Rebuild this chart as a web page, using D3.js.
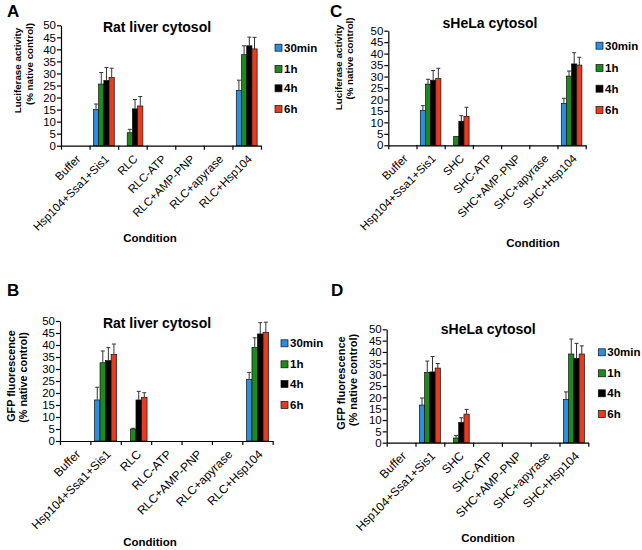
<!DOCTYPE html>
<html><head><meta charset="utf-8">
<script src="https://cdn.jsdelivr.net/npm/d3@7/dist/d3.min.js"></script>
<style>
body{margin:0;background:#fff;}
svg{font-family:"Liberation Sans",Arial,sans-serif;}
</style></head>
<body><svg id="c" width="642" height="550"></svg>
<script>
// ---- data ----
const categoriesRLC = ["Buffer","Hsp104+Ssa1+Sis1","RLC","RLC-ATP","RLC+AMP-PNP","RLC+apyrase","RLC+Hsp104"];
const categoriesSHC = ["Buffer","Hsp104+Ssa1+Sis1","SHC","SHC-ATP","SHC+AMP-PNP","SHC+apyrase","SHC+Hsp104"];
const seriesNames = ["30min","1h","4h","6h"];
const seriesColors = ["#2b8ee0","#1c8a1c","#000000","#e63b1e"];
const yTicks = [0,5,10,15,20,25,30,35,40,45,50];

// Panel A: Rat liver cytosol, luciferase
const lucRat30min = [0,15.0,0,0,0,0,23.0];
const lucRat1h    = [0,25.6,5.4,0,0,0,37.8];
const lucRat4h    = [0,27.1,15.3,0,0,0,41.5];
const lucRat6h    = [0,28.3,16.5,0,0,0,40.2];
const lucRatErr30min = [0,2.3,0,0,0,0,4.2];
const lucRatErr1h    = [0,4.8,1.4,0,0,0,3.7];
const lucRatErr4h    = [0,5.4,3.9,0,0,0,3.6];
const lucRatErr6h    = [0,3.9,3.9,0,0,0,4.8];

// Panel C: sHeLa cytosol, luciferase
const lucHela30min = [0,15.2,0,0,0,0,18.3];
const lucHela1h    = [0,26.7,3.9,0,0,0,30.2];
const lucHela4h    = [0,28.4,10.5,0,0,0,35.5];
const lucHela6h    = [0,29.1,12.6,0,0,0,35.0];
const lucHelaErr30min = [0,2.1,0,0,0,0,2.2];
const lucHelaErr1h    = [0,2.1,0,0,0,0,2.2];
const lucHelaErr4h    = [0,4.2,2.4,0,0,0,4.9];
const lucHelaErr6h    = [0,4.5,4.0,0,0,0,3.4];

// Panel B: Rat liver cytosol, GFP
const gfpRat30min = [0,17.1,0,0,0,0,25.7];
const gfpRat1h    = [0,32.6,5.0,0,0,0,39.0];
const gfpRat4h    = [0,33.5,17.1,0,0,0,44.6];
const gfpRat6h    = [0,36.0,18.2,0,0,0,45.3];
const gfpRatErr30min = [0,5.3,0,0,0,0,2.9];
const gfpRatErr1h    = [0,4.9,0.3,0,0,0,4.0];
const gfpRatErr4h    = [0,5.4,3.6,0,0,0,4.7];
const gfpRatErr6h    = [0,4.4,1.9,0,0,0,4.2];

// Panel D: sHeLa cytosol, GFP
const gfpHela30min = [0,16.6,0,0,0,0,19.1];
const gfpHela1h    = [0,31.0,2.1,0,0,0,39.1];
const gfpHela4h    = [0,31.2,9.0,0,0,0,37.2];
const gfpHela6h    = [0,32.9,12.6,0,0,0,39.1];
const gfpHelaErr30min = [0,3.1,0,0,0,0,3.3];
const gfpHelaErr1h    = [0,5.0,1.1,0,0,0,6.6];
const gfpHelaErr4h    = [0,6.8,2.0,0,0,0,6.6];
const gfpHelaErr6h    = [0,2.0,2.1,0,0,0,3.6];

// ---- layout ----
const panels = [
  {letter:"A", lx:7, ly:17, title:"Rat liver cytosol", tx:157, ty:27,
   cats:categoriesRLC, vals:[lucRat30min,lucRat1h,lucRat4h,lucRat6h],
   errs:[lucRatErr30min,lucRatErr1h,lucRatErr4h,lucRatErr6h],
   x0:61, x1:261, yTop:25.3, y0:145.7,
   ylab:["Luciferase activity","(% native control)"], ylx:[18,30], yly:[70.5,64], ylfs:9.8, xfs:11.5,
   legX:275, legY:[47.7,69,88.3,109], cx:150, cy:238},
  {letter:"C", lx:330, ly:17, title:"sHeLa cytosol", tx:490, ty:22.7,
   cats:categoriesSHC, vals:[lucHela30min,lucHela1h,lucHela4h,lucHela6h],
   errs:[lucHelaErr30min,lucHelaErr1h,lucHelaErr4h,lucHelaErr6h],
   x0:388.3, x1:585.7, yTop:30.7, y0:145.3,
   ylab:["Luciferase activity","(% native control)"], ylx:[338.3,350], yly:[67.5,58.5], ylfs:9.8, xfs:11.5,
   legX:596, legY:[45.7,68,88.7,110], cx:533, cy:243},
  {letter:"B", lx:7, ly:296, title:"Rat liver cytosol", tx:157, ty:322.7,
   cats:categoriesRLC, vals:[gfpRat30min,gfpRat1h,gfpRat4h,gfpRat6h],
   errs:[gfpRatErr30min,gfpRatErr1h,gfpRatErr4h,gfpRatErr6h],
   x0:60, x1:272.7, yTop:321, y0:441,
   ylab:["GFP fluorescence","(% native control)"], ylx:[11,23.5], yly:[376,377.5], ylfs:10.8, xfs:12,
   legX:281, legY:[343.3,364.3,384,405], cx:150, cy:542},
  {letter:"D", lx:331, ly:296, title:"sHeLa cytosol", tx:488.3, ty:329.3,
   cats:categoriesSHC, vals:[gfpHela30min,gfpHela1h,gfpHela4h,gfpHela6h],
   errs:[gfpHelaErr30min,gfpHelaErr1h,gfpHelaErr4h,gfpHelaErr6h],
   x0:386.7, x1:588.3, yTop:329.3, y0:442.7,
   ylab:["GFP fluorescence","(% native control)"], ylx:[341,353], yly:[383,380], ylfs:11, xfs:12,
   legX:598.3, legY:[352.3,373.3,393.3,414], cx:488, cy:538}
];

const svg = d3.select("#c");

panels.forEach(p => {
  const g = svg.append("g");
  const x = d3.scaleBand().domain(p.cats).range([p.x0, p.x1]).paddingInner(0).paddingOuter(0);
  const bw = x.bandwidth();
  const xs = d3.scaleBand().domain(seriesNames).range([bw*0.135, bw*0.865]).padding(0);
  const y = d3.scaleLinear().domain([0,50]).range([p.y0, p.yTop]);
  const xIdx = d3.scaleLinear().domain([0, p.cats.length]).range([p.x0, p.x1]);

  // bars
  seriesNames.forEach((s, si) => {
    const rows = p.cats.map((c, ci) => ({c, v:p.vals[si][ci], e:p.errs[si][ci]}));
    g.selectAll(null).data(rows.filter(d => d.v > 0)).enter().append("rect")
      .attr("x", d => x(d.c) + xs(s))
      .attr("y", d => y(d.v))
      .attr("width", xs.bandwidth())
      .attr("height", d => y(0) - y(d.v))
      .attr("fill", seriesColors[si])
      .attr("stroke", "#111").attr("stroke-width", 0.7);
    const eb = rows.filter(d => d.v > 0 && d.e > 0);
    g.selectAll(null).data(eb).enter().append("line")
      .attr("x1", d => x(d.c) + xs(s) + xs.bandwidth()/2)
      .attr("x2", d => x(d.c) + xs(s) + xs.bandwidth()/2)
      .attr("y1", d => y(d.v)).attr("y2", d => y(d.v + d.e))
      .attr("stroke", "#333").attr("stroke-width", 1);
    g.selectAll(null).data(eb).enter().append("line")
      .attr("x1", d => x(d.c) + xs(s) + xs.bandwidth()/2 - 2)
      .attr("x2", d => x(d.c) + xs(s) + xs.bandwidth()/2 + 2)
      .attr("y1", d => y(d.v + d.e)).attr("y2", d => y(d.v + d.e))
      .attr("stroke", "#333").attr("stroke-width", 1);
  });

  // y axis
  const ya = g.append("g").attr("transform", `translate(${p.x0},0)`)
    .call(d3.axisLeft(y).tickValues(yTicks).tickSize(4).tickPadding(1).tickSizeOuter(0));
  ya.selectAll("text").attr("font-size", 11.5).attr("fill", "#000")
    .attr("font-family", '"Liberation Sans",Arial,sans-serif');
  ya.selectAll("line,path").attr("stroke", "#000").attr("stroke-width", 1.2);

  // x axis (ticks at band boundaries)
  const xa = g.append("g").attr("transform", `translate(0,${p.y0})`)
    .call(d3.axisBottom(xIdx).tickValues(d3.range(0, p.cats.length + 1)).tickFormat("").tickSize(4).tickSizeOuter(0));
  xa.selectAll("line,path").attr("stroke", "#000").attr("stroke-width", 1.2);

  // x tick labels
  g.selectAll(null).data(p.cats).enter().append("text")
    .attr("transform", d => `translate(${x(d) + bw/2 + 6},${p.y0 + 14}) rotate(-45)`)
    .attr("text-anchor", "end").attr("font-size", p.xfs).attr("fill", "#000")
    .text(d => d);

  // title
  g.append("text").attr("x", p.tx).attr("y", p.ty).attr("dy", "0.35em")
    .attr("text-anchor", "middle").attr("font-weight", "bold").attr("font-size", 14)
    .text(p.title);

  // panel letter
  g.append("text").attr("x", p.lx).attr("y", p.ly)
    .attr("font-weight", "bold").attr("font-size", 17).text(p.letter);

  // y label
  p.ylab.forEach((t, i) => {
    g.append("text").attr("transform", `translate(${p.ylx[i]},${p.yly[i]}) rotate(-90)`)
      .attr("text-anchor", "middle").attr("dy", "0.35em")
      .attr("font-weight", "bold").attr("font-size", p.ylfs).text(t);
  });

  // x label
  g.append("text").attr("x", p.cx).attr("y", p.cy).attr("dy", "0.35em")
    .attr("text-anchor", "middle").attr("font-weight", "bold").attr("font-size", 11.5)
    .text("Condition");

  // legend
  seriesNames.forEach((s, si) => {
    g.append("rect").attr("x", p.legX).attr("y", p.legY[si] - 3.5)
      .attr("width", 7).attr("height", 7)
      .attr("fill", seriesColors[si]).attr("stroke", "#111").attr("stroke-width", 0.7);
    g.append("text").attr("x", p.legX + 9).attr("y", p.legY[si]).attr("dy", "0.35em")
      .attr("font-weight", "bold").attr("font-size", 11.5).text(s);
  });
});
</script></body></html>
